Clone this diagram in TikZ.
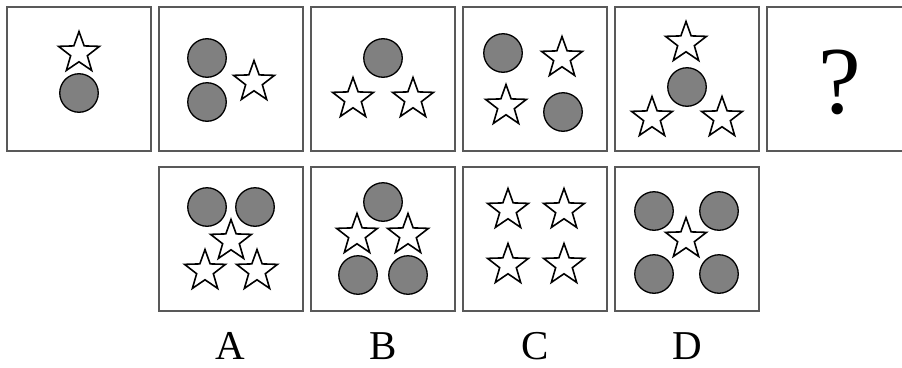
\documentclass[tikz,border=0pt]{standalone}
\usepackage{fontspec}
\setmainfont{Liberation Serif}
\usetikzlibrary{shapes.geometric}
\begin{document}
\begin{tikzpicture}[x=1pt, y=-1pt,
    every node/.style={inner sep=0pt, outer sep=0pt},
    panel/.style={draw=black!65, line width=1.1pt, minimum size=144pt},
    disc/.style={circle, draw=black, fill=black!50, line width=1.3pt, minimum size=38.5pt},
    pentstar/.style={star, star points=5, star point ratio=2.45, draw=black, fill=white, line width=1.6pt, minimum size=43pt},
    choice/.style={font=\fontsize{41}{41}\selectfont}]
\clip (0,0) rectangle (902,367);
\fill[white] (0,0) rectangle (902,367);
\node [panel] (p1) at (79,79) {};
\node [panel] (p2) at (231,79) {};
\node [panel] (p3) at (383,79) {};
\node [panel] (p4) at (535,79) {};
\node [panel] (p5) at (687,79) {};
\node [panel] (p6) at (839,79) {};
\node [panel] (a) at (231,239) {};
\node [panel] (b) at (383,239) {};
\node [panel] (c) at (535,239) {};
\node [panel] (d) at (687,239) {};

\node [pentstar] (p1s) at (79,53) {};
\node [disc] (p1c) at (79,93) {};

\node [disc] (p2c1) at (207,58) {};
\node [disc] (p2c2) at (207,102) {};
\node [pentstar] (p2s) at (254,82) {};

\node [disc] (p3c) at (383,58) {};
\node [pentstar] (p3s1) at (353,99) {};
\node [pentstar] (p3s2) at (413,99) {};

\node [disc] (p4c1) at (503,53) {};
\node [pentstar] (p4s1) at (562,58) {};
\node [pentstar] (p4s2) at (506,106) {};
\node [disc] (p4c2) at (563,112) {};

\node [pentstar] (p5s1) at (686,43) {};
\node [disc] (p5c) at (687,87) {};
\node [pentstar] (p5s2) at (652,118) {};
\node [pentstar] (p5s3) at (722,118) {};

\node [font=\fontsize{96}{96}\selectfont] (q) at (840,82) {?};

\node [disc] (ac1) at (207,207) {};
\node [disc] (ac2) at (255,207) {};
\node [pentstar] (as1) at (231,241) {};
\node [pentstar] (as2) at (205,271) {};
\node [pentstar] (as3) at (257,271) {};

\node [disc] (bc1) at (383,202) {};
\node [pentstar] (bs1) at (357,235) {};
\node [pentstar] (bs2) at (408,235) {};
\node [disc] (bc2) at (358,275) {};
\node [disc] (bc3) at (408,275) {};

\node [pentstar] (cs1) at (508,210) {};
\node [pentstar] (cs2) at (564,210) {};
\node [pentstar] (cs3) at (508,265) {};
\node [pentstar] (cs4) at (564,265) {};

\node [disc] (dc1) at (654,211) {};
\node [disc] (dc2) at (719,211) {};
\node [disc] (dc3) at (654,274) {};
\node [disc] (dc4) at (719,274) {};
\node [pentstar] (ds) at (686,239) {};

\node [choice, anchor=base] (la) at (230,359) {A};
\node [choice, anchor=base] (lb) at (383,359) {B};
\node [choice, anchor=base] (lc) at (535,359) {C};
\node [choice, anchor=base] (ld) at (687,359) {D};
\end{tikzpicture}
\end{document}
